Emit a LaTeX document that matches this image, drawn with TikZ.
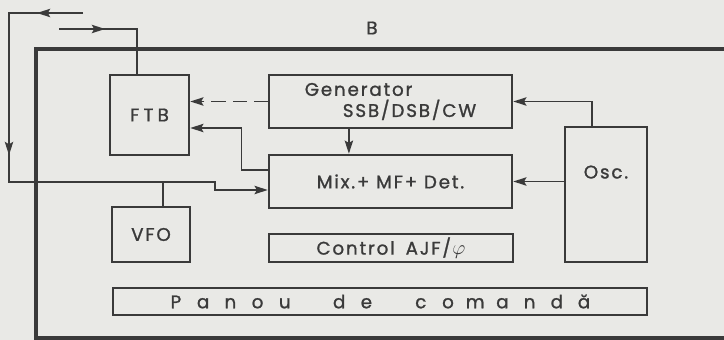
\documentclass[tikz,border=0pt]{standalone}
\usepackage{fontspec}
\setmainfont{Poppins}[LetterSpace=10, FakeBold=1.2]
\usepackage{tikz}
\usetikzlibrary{arrows.meta,positioning,calc,decorations.markings}
\definecolor{paper}{RGB}{233,233,230}
\definecolor{inkgray}{RGB}{58,58,58}

\begin{document}
\begin{tikzpicture}[
  x=0.025cm, y=-0.025cm,
  font=\fontsize{13pt}{15pt}\selectfont, text=inkgray,
  blk/.style={draw=inkgray, line width=1.8pt, inner sep=0pt, align=center},
  wire/.style={draw=inkgray, line width=1pt},
  arr/.style={wire, -{Stealth[length=3.3mm, width=2.1mm, inset=0.6mm]}},
  midarr/.style={postaction={decorate, decoration={markings, mark=at position #1 with {\arrow{Stealth[length=3.3mm, width=2.1mm, inset=0.6mm]}}}}},
]
\fill[paper] (0,0) rectangle (724,340);
\useasboundingbox (0,0) rectangle (724,340);
% frame of unit B
\draw[inkgray, line width=2.5pt] (724,49) -| (36,338) -- (724,338);
\node (blab) at (372,28) {B};
\node[blk, minimum width=1.975cm, minimum height=2cm] (ftb) at (149.5,115) {F\kern3pt T\kern3pt B};
\node[blk, minimum width=6.075cm, minimum height=1.325cm, align=left] (gen) at (390.5,101.5) {Generator\\\hspace*{0.95cm}SSB/DSB/CW};
\node[blk, minimum width=6.075cm, minimum height=1.325cm] (mix) at (390.5,181.5) {Mix.+ MF+ Det.};
\node[blk, minimum width=2.05cm, minimum height=3.375cm, label={[name=osctxt, yshift=0.56cm]center:Osc.}] (osc) at (606,194.5) {};
\node[blk, minimum width=1.95cm, minimum height=1.375cm] (vfo) at (151,234.5) {VFO};
\node[blk, minimum width=6.1cm, minimum height=0.7cm] (ctrl) at (391,248)
  {Control\hspace{0.6em}AJF/\kern1pt{\Large$\varphi$}};
\node[blk, minimum width=13.35cm, minimum height=0.675cm] (panou) at (380,301.5)
  {\foreach \ch in {P,a,n,o,u,{},d,e,{},c,o,m,a,n,d,ă}{\makebox[0.68cm]{\ch}}};
\coordinate (ftbin) at (59,29);
\coordinate (ant) at (83,13);
\coordinate (vfojoin) at (163,182);
\draw[arr] ([xshift=-0.35cm]osc.north) |- (gen.east);
\draw[arr] (osc.west |- mix.east) -- (mix.east);
\draw[arr] ([xshift=-1.04cm]gen.south) -- ([xshift=-1.04cm]mix.north);
\draw[arr, dash pattern=on 10pt off 5pt] (gen.west) -- (gen.west -| ftb.east);
\draw[arr] ([yshift=0.29cm]mix.west) -- ++(-0.65cm,0) |- ([yshift=-0.325cm]ftb.east);
% signal paths from outside
\draw[wire, midarr=1.15cm] (ftbin) -| ([xshift=-0.31cm]ftb.north);
\draw[arr, midarr=1.15cm, midarr=5.4cm] (ant) -| (9,182) -- (215,182) |- ([yshift=-0.2125cm]mix.west);
\draw[wire] (vfo.north -| vfojoin) -- (vfojoin);
\end{tikzpicture}
\end{document}
